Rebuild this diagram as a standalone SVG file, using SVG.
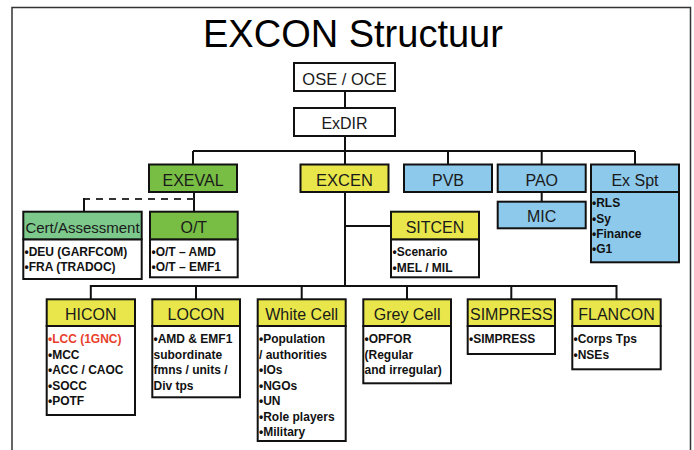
<svg xmlns="http://www.w3.org/2000/svg" width="694" height="450" viewBox="0 0 694 450">
<style>
  .box { stroke: #111; stroke-width: 2; }
  .w { fill: #fff; }
  .y { fill: #E8E64B; }
  .g { fill: #78BE45; }
  .cg { fill: #7DC98C; }
  .b { fill: #8DC9EA; }
  .conn { stroke: #111; stroke-width: 2; fill: none; }
  .dash { stroke: #333; stroke-width: 2; fill: none; stroke-dasharray: 7 6; }
  .h { font-family: "Liberation Sans", Arial, sans-serif; font-size: 16px; fill: #1a1a1a; text-anchor: middle; }
  .t { font-family: "Liberation Sans", Arial, sans-serif; font-size: 12px; font-weight: bold; fill: #111; }
  .red { fill: #E8412C; }
</style>
<rect x="0" y="0" width="694" height="450" fill="#fff"/>
<path d="M12,452 V7.5 H690.5 V452" fill="none" stroke="#333" stroke-width="1.5"/>
<text x="203" y="47" font-family="'Liberation Sans', Arial, sans-serif" font-size="38" fill="#000">EXCON Structuur</text>

<g id="connectors">
  <path class="conn" d="M345,91 V108"/>
  <path class="conn" d="M345,136 V164"/>
  <path class="conn" d="M345,192 V286"/>
  <path class="conn" d="M193,151 H635"/>
  <path class="conn" d="M193,151 V165 M448,151 V164 M541.7,151 V164 M635,151 V164"/>
  <path class="conn" d="M541.7,192 V201.7"/>
  <path class="conn" d="M345,226 H391"/>
  <path class="conn" d="M194,192 V212"/>
  <path class="dash" d="M194,199 H84"/>
  <path class="conn" d="M84,198 V212"/>
  <path class="conn" d="M90.8,286 H616.5"/>
  <path class="conn" d="M90.8,285 V299 M196,285 V299 M301.7,285 V299 M407,285 V299 M511.3,285 V299 M616.5,285 V299"/>
</g>

<g id="ose">
  <rect class="box w" x="294" y="63" width="101" height="28"/>
  <text class="h" x="344.5" y="84.5" style="font-size:16.5px">OSE / OCE</text>
</g>
<g id="exdir">
  <rect class="box w" x="294" y="108" width="101" height="28"/>
  <text class="h" x="344.5" y="129">ExDIR</text>
</g>

<g id="exeval">
  <rect class="box g" x="149" y="164.5" width="88" height="27.5"/>
  <text class="h" x="193" y="186">EXEVAL</text>
</g>
<g id="excen">
  <rect class="box y" x="300.5" y="164.5" width="88" height="27.5"/>
  <text class="h" x="344.5" y="186" style="font-size:16.5px">EXCEN</text>
</g>
<g id="pvb">
  <rect class="box b" x="404" y="164.5" width="88" height="27.5"/>
  <text class="h" x="448" y="186">PVB</text>
</g>
<g id="pao">
  <rect class="box b" x="497.7" y="164.5" width="88" height="27.5"/>
  <text class="h" x="541.7" y="186">PAO</text>
</g>
<g id="mic">
  <rect class="box b" x="497.7" y="201.7" width="88" height="26.6"/>
  <text class="h" x="541.7" y="221.5">MIC</text>
</g>
<g id="exspt">
  <rect class="box b" x="591" y="164.5" width="88" height="97.8"/>
  <path class="conn" d="M591,192 H679"/>
  <text class="h" x="635" y="186">Ex Spt</text>
  <text class="t" x="592" y="207.3">•RLS</text>
  <text class="t" x="592" y="222.7">•Sy</text>
  <text class="t" x="592" y="238.3">•Finance</text>
  <text class="t" x="592" y="253.3">•G1</text>
</g>

<g id="cert">
  <rect class="box w" x="23.3" y="239.3" width="118.4" height="39.7"/>
  <rect class="box cg" x="23.3" y="211.7" width="118.4" height="27.6"/>
  <text class="h" x="82.5" y="233" style="font-size:15px">Cert/Assessment</text>
  <text class="t" x="24.5" y="256">•DEU (GARFCOM)</text>
  <text class="t" x="24.5" y="270.7">•FRA (TRADOC)</text>
</g>
<g id="ot">
  <rect class="box w" x="150" y="239.3" width="87.7" height="38"/>
  <rect class="box g" x="150" y="211.7" width="87.7" height="27.6"/>
  <text class="h" x="193.8" y="233">O/T</text>
  <text class="t" x="151.5" y="256">•O/T – AMD</text>
  <text class="t" x="151.5" y="270.7">•O/T – EMF1</text>
</g>
<g id="sitcen">
  <rect class="box w" x="391" y="239.3" width="88" height="38"/>
  <rect class="box y" x="391" y="211.7" width="88" height="27.6"/>
  <text class="h" x="435" y="233">SITCEN</text>
  <text class="t" x="392.5" y="256">•Scenario</text>
  <text class="t" x="392.5" y="271.7">•MEL / MIL</text>
</g>

<g id="hicon">
  <rect class="box w" x="46.7" y="326" width="88.3" height="89"/>
  <rect class="box y" x="46.7" y="299.3" width="88.3" height="26.7"/>
  <text class="h" x="90.8" y="320.3">HICON</text>
  <text class="t red" x="48" y="343.3">•LCC (1GNC)</text>
  <text class="t" x="48" y="358.8">•MCC</text>
  <text class="t" x="48" y="374.3">•ACC / CAOC</text>
  <text class="t" x="48" y="389.8">•SOCC</text>
  <text class="t" x="48" y="405.3">•POTF</text>
</g>
<g id="locon">
  <rect class="box w" x="152.3" y="326" width="87.7" height="71.3"/>
  <rect class="box y" x="152.3" y="299.3" width="87.7" height="26.7"/>
  <text class="h" x="196" y="320.3">LOCON</text>
  <text class="t" x="153.5" y="343.3">•AMD &amp; EMF1</text>
  <text class="t" x="153.5" y="358.8">subordinate</text>
  <text class="t" x="153.5" y="374.3">fmns / units /</text>
  <text class="t" x="153.5" y="389.8">Div tps</text>
</g>
<g id="whitecell">
  <rect class="box w" x="257.7" y="326" width="88" height="115"/>
  <rect class="box y" x="257.7" y="299.3" width="88" height="26.7"/>
  <text class="h" x="301.7" y="320.3">White Cell</text>
  <text class="t" x="259" y="343.3">•Population</text>
  <text class="t" x="259" y="358.8">/ authorities</text>
  <text class="t" x="259" y="374.3">•IOs</text>
  <text class="t" x="259" y="389.8">•NGOs</text>
  <text class="t" x="259" y="405.3">•UN</text>
  <text class="t" x="259" y="420.8">•Role players</text>
  <text class="t" x="259" y="436.3">•Military</text>
</g>
<g id="greycell">
  <rect class="box w" x="363.3" y="326" width="87.7" height="57.3"/>
  <rect class="box y" x="363.3" y="299.3" width="87.7" height="26.7"/>
  <text class="h" x="407.1" y="320.3">Grey Cell</text>
  <text class="t" x="364.5" y="343.3">•OPFOR</text>
  <text class="t" x="364.5" y="358.8">(Regular</text>
  <text class="t" x="364.5" y="374.3">and irregular)</text>
</g>
<g id="simpress">
  <rect class="box w" x="467.7" y="326" width="87.3" height="28"/>
  <rect class="box y" x="467.7" y="299.3" width="87.3" height="26.7"/>
  <text class="h" x="511.3" y="320.3">SIMPRESS</text>
  <text class="t" x="469" y="343.3">•SIMPRESS</text>
</g>
<g id="flancon">
  <rect class="box w" x="572.3" y="326" width="88.4" height="43.3"/>
  <rect class="box y" x="572.3" y="299.3" width="88.4" height="26.7"/>
  <text class="h" x="616.5" y="320.3">FLANCON</text>
  <text class="t" x="573.5" y="343.3">•Corps Tps</text>
  <text class="t" x="573.5" y="358.8">•NSEs</text>
</g>
</svg>
